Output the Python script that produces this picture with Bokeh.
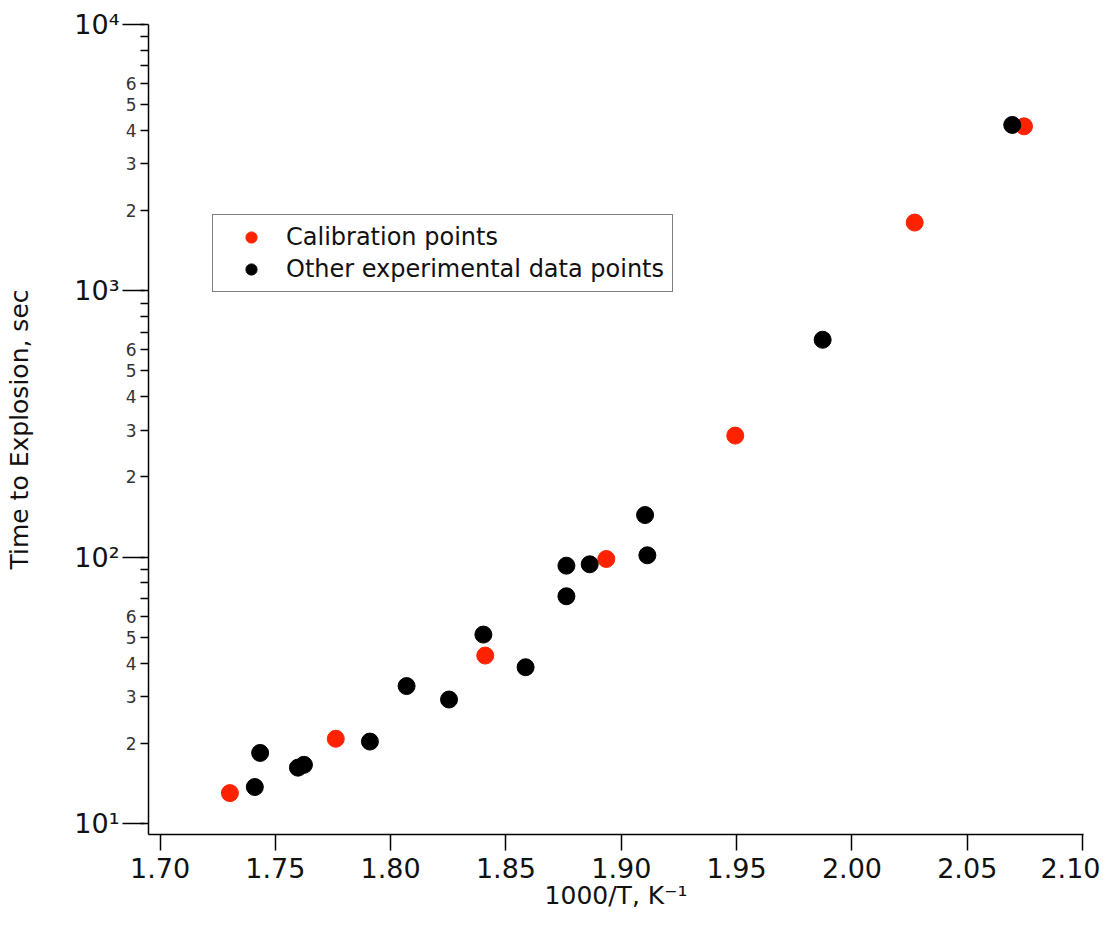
from bokeh.plotting import figure
from bokeh.models import Range1d, FixedTicker, NumeralTickFormatter, LogAxis
from bokeh.embed import file_html
from bokeh.resources import INLINE

# ---- data ----
calib_x = [1.7303, 1.7762, 1.8410, 1.8935, 1.9494, 2.0272, 2.0746]
calib_y = [13.0, 20.8, 42.7, 98.4, 286.0, 1804.0, 4146.0]

other_x = [1.7411, 1.7434, 1.7598, 1.7624, 1.7910, 1.8069, 1.8253, 1.8402,
           1.8585, 1.8762, 1.8762, 1.8863, 1.9103, 1.9113, 1.9873, 2.0695]
other_y = [13.7, 18.4, 16.2, 16.6, 20.3, 32.8, 29.2, 51.2,
           38.6, 92.9, 71.3, 94.0, 143.9, 101.6, 655.0, 4196.0]

x_ticks = [1.70, 1.75, 1.80, 1.85, 1.90, 1.95, 2.00, 2.05, 2.10]
y_decades = [10, 100, 1000, 10000]
y_decade_labels = ["10\u00b9", "10\u00b2", "10\u00b3", "10\u2074"]
minor_mult = [2, 3, 4, 5, 6, 7, 8, 9]
labeled_mult = [2, 3, 4, 5, 6]

X_START, X_END = 1.695, 2.1004
Y_START, Y_END = 9.09, 10000

FONT = "DejaVu Sans"
RED = "#FF2200"
TXT = "#111111"

p = figure(width=1100, height=915,
           x_range=Range1d(X_START, X_END), y_range=Range1d(Y_START, Y_END),
           y_axis_type="log", output_backend="svg", toolbar_location=None,
           min_border_left=148, min_border_right=17, min_border_top=24,
           min_border_bottom=81)
p.outline_line_color = None
p.xgrid.visible = False
p.ygrid.visible = False
p.background_fill_color = "white"

# x axis
xa = p.xaxis[0]
xa.ticker = FixedTicker(ticks=x_ticks)
xa.formatter = NumeralTickFormatter(format="0.00")
xa.major_tick_out = 16
xa.major_tick_in = 0
xa.minor_tick_out = 0
xa.minor_tick_in = 0
xa.axis_line_width = 1.5
xa.major_tick_line_width = 1.5
xa.axis_line_color = "black"
xa.major_tick_line_color = "black"
xa.major_label_text_font = FONT
xa.major_label_text_font_size = "27px"
xa.major_label_text_color = TXT
xa.major_label_standoff = 7
xa.axis_label = "1000/T, K\u207b\u00b9"
xa.axis_label_text_font = FONT
xa.axis_label_text_font_size = "25px"
xa.axis_label_text_font_style = "normal"
xa.axis_label_text_color = TXT
xa.axis_label_standoff = 0

# inner y axis: all log ticks, labels 2..6 between decades
ya = p.yaxis[0]
all_y_ticks = sorted(y_decades + [m * d for d in y_decades[:-1] for m in minor_mult])
ya.ticker = FixedTicker(ticks=all_y_ticks)
overrides = {}
for t in all_y_ticks:
    overrides[t] = ""
for d in y_decades[:-1]:
    for m in labeled_mult:
        overrides[m * d] = str(m)
ya.major_label_overrides = overrides
ya.major_tick_out = 8
ya.major_tick_in = 0
ya.minor_tick_out = 0
ya.minor_tick_in = 0
ya.axis_line_width = 1.5
ya.major_tick_line_width = 1.5
ya.axis_line_color = "black"
ya.major_tick_line_color = "black"
ya.major_label_text_font = FONT
ya.major_label_text_font_size = "17px"
ya.major_label_text_color = "#333333"
ya.major_label_standoff = 4

# outer y axis: decades with long ticks
yb = LogAxis(ticker=FixedTicker(ticks=y_decades))
yb.major_label_overrides = {d: lab for d, lab in zip(y_decades, y_decade_labels)}
yb.axis_line_color = None
yb.major_tick_out = 0
yb.major_tick_in = 22
yb.minor_tick_out = 0
yb.minor_tick_in = 0
yb.major_tick_line_width = 1.5
yb.major_tick_line_color = "black"
yb.major_label_text_font = FONT
yb.major_label_text_font_size = "27px"
yb.major_label_text_color = TXT
yb.major_label_standoff = 3
yb.axis_label = "Time to Explosion, sec"
yb.axis_label_text_font = FONT
yb.axis_label_text_font_size = "25px"
yb.axis_label_text_font_style = "normal"
yb.axis_label_text_color = TXT
yb.axis_label_standoff = 37
p.add_layout(yb, "left")

# data
p.scatter(calib_x, calib_y, size=17, color=RED, legend_label="Calibration points")
p.scatter(other_x, other_y, size=17, color="black", legend_label="Other experimental data points")

lg = p.legend[0]
lg.location = (64, 542)
lg.border_line_color = "black"
lg.border_line_width = 1.5
lg.background_fill_alpha = 1
lg.padding = 8
lg.margin = 0
lg.spacing = 4
lg.glyph_width = 60
lg.glyph_height = 28
lg.label_standoff = 5
lg.label_text_font = FONT
lg.label_text_font_size = "24px"
lg.label_text_color = TXT
lg.label_height = 28

open("out.html", "w").write(file_html(p, INLINE))
